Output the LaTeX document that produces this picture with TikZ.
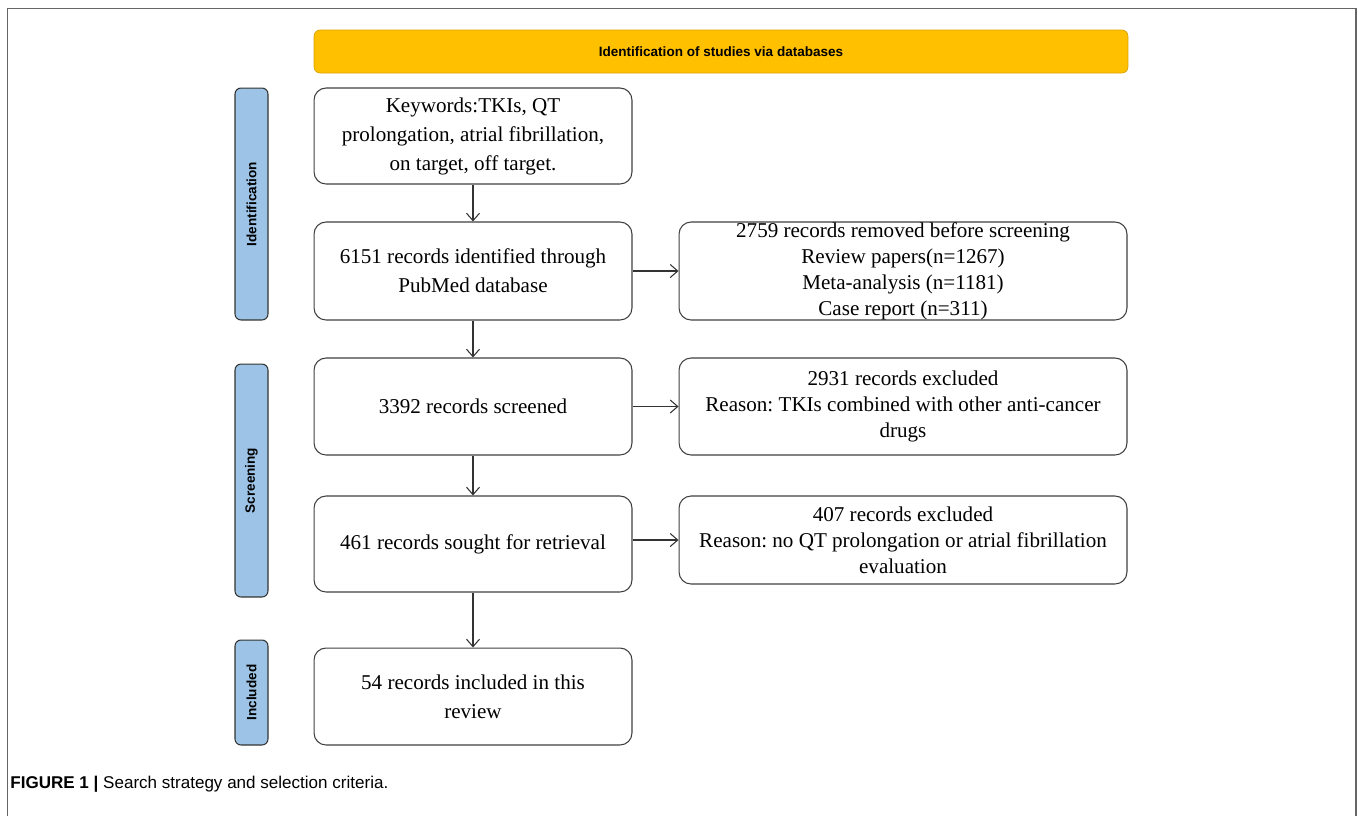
\documentclass[tikz,border=0pt]{standalone}
\usepackage{fontspec}
\setmainfont{Liberation Serif}
\setsansfont{Liberation Sans}
\usetikzlibrary{calc,arrows.meta,positioning}
\frenchspacing

\definecolor{stageblue}{RGB}{157,195,230}
\definecolor{bannerorange}{RGB}{255,192,0}

\begin{document}
\begin{tikzpicture}[x=0.02cm,y=-0.02cm]

\tikzset{inner sep=0mm,
box/.style={draw=black!75,line width=0.6pt,rounded corners=2.4mm,fill=white,align=center},
leftbox/.style={box,minimum width=6.36cm,font=\fontsize{12}{16.5}\selectfont},
rightbox/.style={box,minimum width=8.96cm,font=\fontsize{12}{14.8}\selectfont},
stage/.style={draw=black!80,line width=0.6pt,fill=stageblue,rounded corners=1.2mm,minimum height=6.6mm,rotate=90,font=\fontsize{7.7}{9}\selectfont\sffamily\bfseries},
banner/.style={draw=bannerorange!85!black,line width=0.4pt,fill=bannerorange,rounded corners=1.2mm,minimum width=16.28cm,minimum height=8.6mm,font=\fontsize{7.7}{9}\selectfont\sffamily\bfseries},
flow/.style={-{Straight Barb[length=1.5mm,width=2.6mm]},line width=0.6pt,black!80}}

\useasboundingbox (0,0) rectangle (1358,816);

% Figure frame
\draw[black!60,line width=0.8pt] (7.5,816) -- (7.5,8.5) -- (1356,8.5) -- (1356,816);

% Banner
\node[banner] (head) at (721,51.5) {Identification of studies via databases};

% Stages
\node[stage,minimum width=4.64cm] (stIdent) at (251.5,204) {Identification};
\node[stage,minimum width=4.66cm] (stScreen) at (251.5,480.5) {Screening};
\node[stage,minimum width=2.1cm] (stIncl) at (251.5,692.5) {Included};

% Main column
\node[leftbox,minimum height=1.92cm] (keywords) at (473,136) {Keywords:TKIs, QT\\prolongation, atrial fibrillation,\\on target, off target.};
\node[leftbox,minimum height=1.96cm] (identified) at (473,271) {6151 records identified through\\PubMed database};
\node[leftbox,minimum height=1.94cm] (screened) at (473,406.5) {3392 records screened};
\node[leftbox,minimum height=1.92cm] (sought) at (473,544) {461 records sought for retrieval};
\node[leftbox,minimum height=1.94cm] (included) at (473,696.5) {54 records included in this\\review};

% Exclusions
\node[rightbox,minimum height=1.96cm] (removed) at (903,271) {2759 records removed before screening\\Review papers(n=1267)\\Meta-analysis (n=1181)\\Case report (n=311)};
\node[rightbox,minimum height=1.94cm] (excl1) at (903,406.5) {2931 records excluded\\Reason: TKIs combined with other anti-cancer\\drugs};
\node[rightbox,minimum height=1.76cm] (excl2) at (903,540) {407 records excluded\\Reason: no QT prolongation or atrial fibrillation\\evaluation};

% Arrows
\draw[flow] (keywords) -- (identified);
\draw[flow] (identified) -- (screened);
\draw[flow] (screened) -- (sought);
\draw[flow] (sought) -- (included);
\draw[flow] (identified) -- (removed);
\draw[flow] (screened) -- (excl1);
\draw[flow] (excl2.west -| sought.east) -- (excl2.west);

% Caption
\node[anchor=base west,font=\fontsize{9.7}{11}\selectfont\sffamily] (caption) at (10,788) {\textbf{FIGURE 1 |} Search strategy and selection criteria.};

\end{tikzpicture}
\end{document}
